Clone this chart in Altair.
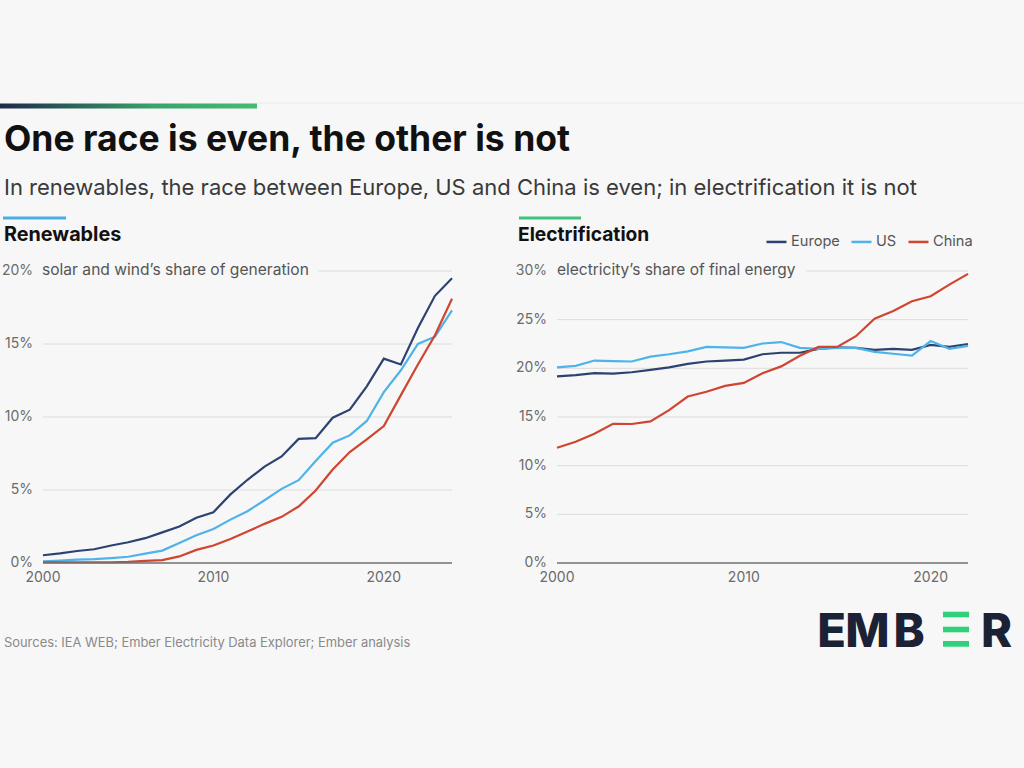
import altair as alt
import pandas as pd

# ---------------- data ----------------
COUNTRIES = ["Europe", "US", "China"]
COLORS = ["#2c4372", "#4db3e8", "#cf4530"]

REN_YEARS = list(range(2000, 2025))
REN_EUROPE = [0.53, 0.66, 0.82, 0.94, 1.2, 1.42, 1.7, 2.1, 2.5, 3.1, 3.48, 4.7, 5.7, 6.6, 7.3,
              8.5, 8.55, 9.95, 10.5, 12.1, 14.0, 13.6, 16.1, 18.3, 19.5]
REN_US = [0.11, 0.16, 0.23, 0.27, 0.34, 0.43, 0.64, 0.85, 1.37, 1.9, 2.33, 2.97, 3.55, 4.3, 5.08,
          5.67, 6.98, 8.24, 8.74, 9.73, 11.7, 13.2, 15.0, 15.5, 17.3]
REN_CHINA = [0.05, 0.05, 0.05, 0.05, 0.05, 0.08, 0.15, 0.2, 0.45, 0.9, 1.2, 1.65, 2.15, 2.68, 3.16,
             3.87, 4.97, 6.4, 7.6, 8.47, 9.38, 11.5, 13.6, 15.6, 18.1]

EL_YEARS = list(range(2000, 2023))
EL_EUROPE = [19.17, 19.3, 19.5, 19.45, 19.6, 19.85, 20.1, 20.45, 20.7, 20.8, 20.9, 21.45, 21.6,
             21.6, 22.0, 22.15, 22.1, 21.9, 22.0, 21.9, 22.4, 22.2, 22.5]
EL_US = [20.1, 20.25, 20.8, 20.75, 20.7, 21.2, 21.45, 21.75, 22.2, 22.15, 22.1, 22.55, 22.7,
         22.1, 22.0, 22.1, 22.1, 21.7, 21.5, 21.3, 22.8, 22.0, 22.3]
EL_CHINA = [11.84, 12.46, 13.28, 14.3, 14.28, 14.55, 15.7, 17.1, 17.6, 18.2, 18.5, 19.5, 20.2,
            21.3, 22.2, 22.2, 23.3, 25.1, 25.9, 26.9, 27.4, 28.6, 29.7]

REN_YTICKS = [0, 5, 10, 15, 20]
EL_YTICKS = [0, 5, 10, 15, 20, 25, 30]
XTICKS = [2000, 2010, 2020]

TITLE = "One race is even, the other is not"
SUBTITLE = "In renewables, the race between Europe, US and China is even; in electrification it is not"
REN_TITLE = "Renewables"
EL_TITLE = "Electrification"
REN_NOTE = "solar and wind\u2019s share of generation"
EL_NOTE = "electricity\u2019s share of final energy"
SOURCES = "Sources: IEA WEB; Ember Electricity Data Explorer; Ember analysis"

# ---------------- styling ----------------
FONT = "Inter"
BG = "#f7f7f7"
GRID = "#dcdcdc"
BASE = "#707070"
TICK = "#6b6b6b"

xL = alt.Scale(domain=[2000, 2024], range=[43, 452])
yL = alt.Scale(domain=[0, 20], range=[563, 271])
xR = alt.Scale(domain=[2000, 2022], range=[557, 968])
yR = alt.Scale(domain=[0, 30], range=[563, 271])


def long(years, series):
    rows = []
    for name, vals in zip(COUNTRIES, series):
        for yr, v in zip(years, vals):
            rows.append({"year": yr, "value": v, "country": name})
    return pd.DataFrame(rows)


ren_df = long(REN_YEARS, [REN_EUROPE, REN_US, REN_CHINA])
el_df = long(EL_YEARS, [EL_EUROPE, EL_US, EL_CHINA])

ONE = pd.DataFrame({"t": [""]})


def label(text, x, y, size, color, weight="normal", align="left", baseline="alphabetic"):
    return alt.Chart(pd.DataFrame({"t": [text]})).mark_text(
        align=align, baseline=baseline, fontSize=size, fontWeight=weight, color=color, font=FONT
    ).encode(text="t:N", x=alt.value(x), y=alt.value(y))


def rect(x, x2, y, y2, color):
    return alt.Chart(ONE).mark_rect(color=color).encode(
        x=alt.value(x), x2=alt.value(x2), y=alt.value(y), y2=alt.value(y2))


def grid(ticks, years, xs, ys):
    df = pd.DataFrame({"v": ticks, "x0": min(years), "x1": max(years)})
    g = alt.Chart(df).transform_filter("datum.v > 0").mark_rule(color=GRID, strokeWidth=1).encode(
        x=alt.X("x0:Q", scale=xs, axis=None), x2="x1:Q",
        y=alt.Y("v:Q", scale=ys, axis=None))
    b = alt.Chart(df).transform_filter("datum.v == 0").mark_rule(color=BASE, strokeWidth=1.6).encode(
        x=alt.X("x0:Q", scale=xs, axis=None), x2="x1:Q",
        y=alt.Y("v:Q", scale=ys, axis=None))
    return g, b


def ylabels(ticks, xs_right, ys):
    df = pd.DataFrame({"v": ticks})
    return alt.Chart(df).transform_calculate(lab="datum.v + '%'").mark_text(
        align="right", baseline="middle", fontSize=14, color=TICK, font=FONT
    ).encode(y=alt.Y("v:Q", scale=ys, axis=None), x=alt.value(xs_right), text="lab:N")


def xlabels(xs):
    df = pd.DataFrame({"yr": XTICKS})
    return alt.Chart(df).mark_text(
        align="center", baseline="alphabetic", fontSize=14, color=TICK, font=FONT
    ).encode(x=alt.X("yr:Q", scale=xs, axis=None), y=alt.value(582), text="yr:N")


color = alt.Color(
    "country:N",
    scale=alt.Scale(domain=COUNTRIES, range=COLORS),
    legend=alt.Legend(
        orient="none", legendX=765, legendY=230, direction="horizontal", title=None,
        symbolType="stroke", symbolSize=400, symbolStrokeWidth=2.5,
        labelFontSize=14.6, labelColor="#555555", labelFont=FONT,
        labelOffset=3, columnPadding=6,
    ),
)


def lines(df, xs, ys):
    return alt.Chart(df).mark_line(strokeWidth=2.2).encode(
        x=alt.X("year:Q", scale=xs, axis=None),
        y=alt.Y("value:Q", scale=ys, axis=None),
        color=color,
        detail="country:N",
    )


gradient = alt.Chart(ONE).mark_rect(
    color=alt.Gradient(
        gradient="linear",
        stops=[alt.GradientStop(color="#1c2a4c", offset=0),
               alt.GradientStop(color="#3aa36a", offset=0.6),
               alt.GradientStop(color="#45bb71", offset=1)],
        x1=0, x2=1, y1=0, y2=0,
    )
).encode(x=alt.value(0), x2=alt.value(257), y=alt.value(103.5), y2=alt.value(108.5))

faint = alt.Chart(ONE).mark_rule(color="#ebebeb", strokeWidth=1).encode(
    x=alt.value(257), x2=alt.value(1024), y=alt.value(103))

gL, bL = grid(REN_YTICKS, REN_YEARS, xL, yL)
gR, bR = grid(EL_YTICKS, EL_YEARS, xR, yR)

LOGO = "#1b2235"
GREEN = "#2fd07a"

layers = [
    gradient, faint,
    label(TITLE, 4, 151, 35.5, "#111111", weight="bold"),
    label(SUBTITLE, 4, 195, 22, "#3a3a3a"),
    rect(3, 66, 216.5, 219.5, "#4aaee6"),
    rect(519, 581, 216.5, 219.5, "#3cc47c"),
    label(REN_TITLE, 4, 241, 19.8, "#111111", weight="bold"),
    label(EL_TITLE, 518, 241, 19.2, "#111111", weight="bold"),
    gL, gR,
    rect(38, 318, 260, 281, BG),
    rect(552, 806, 260, 281, BG),
    label(REN_NOTE, 42, 270, 15.6, "#555555", baseline="middle"),
    label(EL_NOTE, 557, 270, 15.5, "#555555", baseline="middle"),
    ylabels(REN_YTICKS, 33, yL),
    ylabels(EL_YTICKS, 547, yR),
    xlabels(xL), xlabels(xR),
    lines(ren_df, xL, yL),
    lines(el_df, xR, yR),
    bL, bR,
    label(SOURCES, 4, 643, 12.9, "#8a8a8a", baseline="middle"),
    # logo
    label("E", 831.5, 647, 47, LOGO, weight=800, align="center"),
    label("M", 867.5, 647, 47, LOGO, weight=800, align="center"),
    label("B", 909, 647, 47, LOGO, weight=800, align="center"),
    rect(943, 969, 611.7, 617.3, GREEN),
    rect(943, 969, 626.7, 632.3, GREEN),
    rect(943, 969, 641, 646.7, GREEN),
    label("R", 996.5, 647, 47, LOGO, weight=800, align="center"),
]

chart = alt.layer(*layers).resolve_scale(x="independent", y="independent").properties(
    width=1024, height=768, autosize=alt.AutoSizeParams(type="none"), padding=0,
    background=BG,
).configure_view(stroke=None)

chart.save("out.html", embed_options={"renderer": "svg", "actions": False})
